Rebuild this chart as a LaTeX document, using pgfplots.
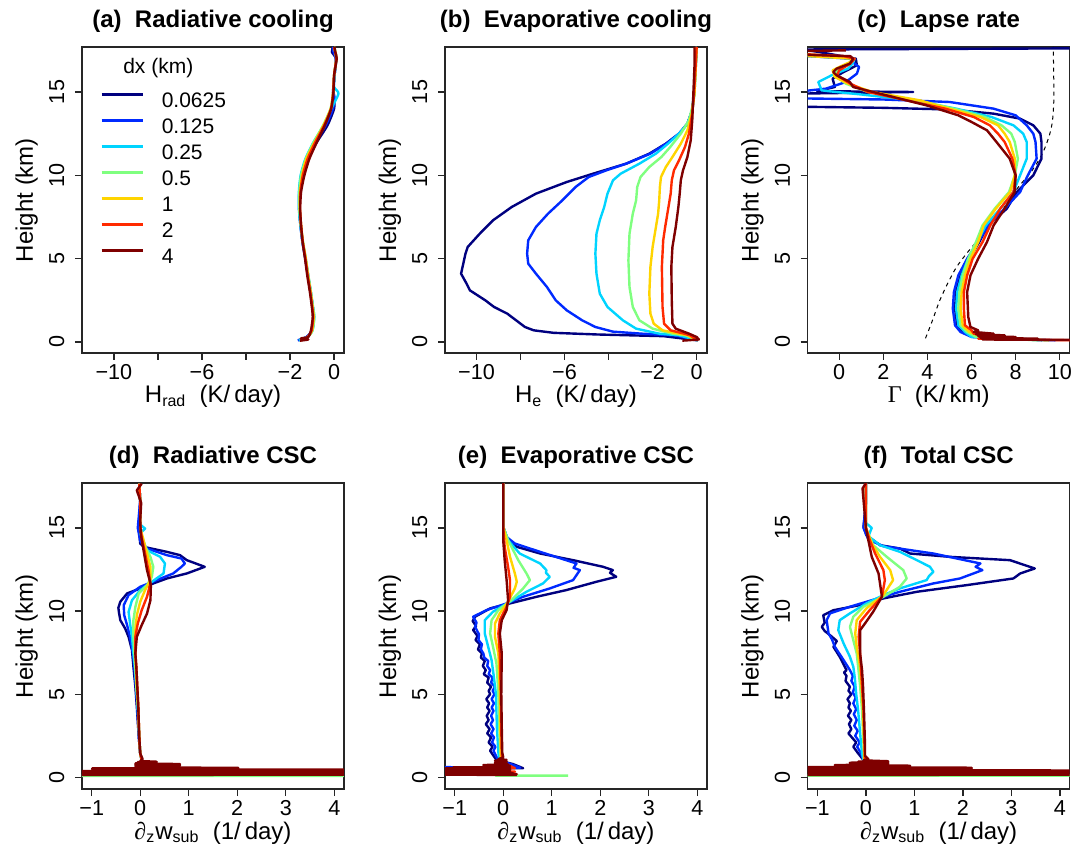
\documentclass[border=0pt]{standalone}
\usepackage{pgfplots}
\pgfplotsset{compat=1.18}
\usepackage{fontspec}
\setmainfont{Liberation Sans}
\newfontfamily\symf{Liberation Serif}
\definecolor{c1}{HTML}{00007F}
\definecolor{c2}{HTML}{002AFF}
\definecolor{c3}{HTML}{00D4FF}
\definecolor{c4}{HTML}{7FFF7F}
\definecolor{c5}{HTML}{FFD400}
\definecolor{c6}{HTML}{FF2A00}
\definecolor{c7}{HTML}{7F0000}
\pgfplotsset{
 every axis title shift=0pt,
 panel/.style={
  scale only axis, width=131pt, height=153pt,
  ytick={0,5,10,15}, yticklabels={0,5,10,15},
  tick align=outside, major tick length=3.5pt,
  xtick pos=left, ytick pos=left,
  axis line style={line width=0.6pt, black!85},
  tick style={line width=0.6pt, black!85},
  tick label style={font=\fontsize{10.8}{12}\selectfont},
  yticklabel style={rotate=90, anchor=south, inner sep=0pt},
  xticklabel style={anchor=north, inner sep=0pt},
  yticklabel shift=5.1pt,
  xticklabel shift=2pt,
  label style={font=\fontsize{12}{14}\selectfont},
  xlabel style={at={([yshift=-25pt]axis description cs:0.5,0)}, anchor=base},
  ylabel style={at={([xshift=-24.5pt]axis description cs:0,0.5)}, anchor=base},
  title style={at={([yshift=9.8pt]axis description cs:0.5,1)}, anchor=base, font=\fontsize{12}{14}\selectfont\bfseries},
  every axis plot/.append style={line width=1.2pt, line join=round},
  no markers,
 },
 toprow/.style={panel, ymin=-0.66, ymax=17.7},
 botrow/.style={panel, ymin=-0.7, ymax=17.7, xmin=-1.2, xmax=4.2,
   xtick={-1,0,1,2,3,4}, xticklabels={−1,0,1,2,3,4},
   xlabel={{\symf ∂}\textsubscript{z}w\textsubscript{sub}\ \ (1/\,day)}, ylabel={Height (km)}},
}
\begin{document}
\begin{tikzpicture}
\useasboundingbox (0,0) rectangle (543.5pt,423pt);
% ---------------- (a)
\begin{axis}[toprow, at={(41pt,246.5pt)}, anchor=south west,
  xmin=-11.45, xmax=0.45, xtick={-10,-8,-6,-4,-2,0}, xticklabels={−10,,−6,,−2,0},
  title={(a)\ \ Radiative cooling}, xlabel={H\textsubscript{rad}\ \ (K/\,day)}, ylabel={Height (km)},
  legend style={draw=none, fill=none, inner sep=0pt, at={(axis description cs:0.0687,0.857)}, anchor=north west,
    font=\fontsize{10.5}{12}\selectfont, row sep=3pt, column sep=9pt,
    nodes={inner sep=0pt, text height=8pt, text depth=2pt}},
  legend cell align=left,
  legend image code/.code={\draw[#1, line width=1.2pt] (0pt,3.3pt) -- (20.5pt,3.3pt);}]
\addplot[c1, smooth, tension=0.4] coordinates {(-1.62,0.1) (-1.25,0.3) (-1.0,0.7) (-0.92,1.5) (-0.98,2.2) (-1.06,3) (-1.18,4) (-1.3,5) (-1.43,6) (-1.52,7) (-1.58,8) (-1.56,9) (-1.45,10) (-1.2,11) (-0.78,12) (-0.3,13) (0.0,14) (0.0,14.6) (-0.05,15) (0.02,16) (0.08,17) (-0.1,17.4) (-0.05,17.7)};
\addplot[c2, smooth, tension=0.4] coordinates {(-1.65,0.1) (-1.25,0.3) (-1.0,0.7) (-0.92,1.5) (-0.98,2.2) (-1.07,3) (-1.19,4) (-1.31,5) (-1.44,6) (-1.53,7) (-1.59,8) (-1.58,9) (-1.48,10) (-1.25,11) (-0.85,12) (-0.38,13) (-0.05,14) (0.02,14.7) (-0.03,15) (0.02,16) (0.08,17) (-0.05,17.5) (-0.02,17.7)};
\addplot[c3, smooth, tension=0.4] coordinates {(-1.6,0.1) (-1.2,0.3) (-0.98,0.7) (-0.9,1.5) (-0.97,2.2) (-1.06,3) (-1.18,4) (-1.3,5) (-1.43,6) (-1.53,7) (-1.6,8) (-1.6,9) (-1.52,10) (-1.3,11) (-0.93,12) (-0.47,13) (-0.13,14) (0.2,14.9) (0.0,15.3) (0.02,16) (0.1,17) (0.03,17.5) (0.0,17.7)};
\addplot[c4, smooth, tension=0.4] coordinates {(-1.55,0.1) (-1.2,0.3) (-0.98,0.7) (-0.9,1.5) (-0.97,2.2) (-1.05,3) (-1.17,4) (-1.28,5) (-1.41,6) (-1.51,7) (-1.58,8) (-1.58,9) (-1.5,10) (-1.28,11) (-0.92,12) (-0.5,13) (-0.16,14) (-0.04,15) (0.0,16) (0.1,17) (0.05,17.5) (0.0,17.7)};
\addplot[c5, smooth, tension=0.4] coordinates {(-1.52,0.1) (-1.2,0.3) (-1.0,0.7) (-0.93,1.5) (-0.99,2.2) (-1.07,3) (-1.19,4) (-1.29,5) (-1.42,6) (-1.5,7) (-1.56,8) (-1.55,9) (-1.45,10) (-1.26,11) (-0.88,12) (-0.48,13) (-0.15,14) (-0.04,15) (0.0,16) (0.1,17) (0.05,17.4) (0.0,17.7)};
\addplot[c6, smooth, tension=0.4] coordinates {(-1.5,0.1) (-1.2,0.3) (-1.02,0.7) (-0.95,1.5) (-1.0,2.2) (-1.08,3) (-1.2,4) (-1.3,5) (-1.42,6) (-1.5,7) (-1.55,8) (-1.53,9) (-1.42,10) (-1.2,11) (-0.85,12) (-0.45,13) (-0.14,14) (-0.04,15) (0.0,16) (0.1,17) (0.05,17.4) (0.0,17.7)};
\addplot[c7, smooth, tension=0.4] coordinates {(-1.55,0.08) (-1.17,0.15) (-1.5,0.22) (-1.17,0.3) (-1.05,0.7) (-0.97,1.5) (-1.02,2.2) (-1.1,3) (-1.22,4) (-1.32,5) (-1.43,6) (-1.5,7) (-1.54,8) (-1.5,9) (-1.35,10) (-1.12,11) (-0.78,12) (-0.42,13) (-0.13,14) (-0.03,15) (0.0,16) (0.12,17) (0.05,17.4) (0.02,17.7)};
\legend{0.0625,0.125,0.25,0.5,1,2,4}
\node[anchor=base west, font=\fontsize{10.5}{12}\selectfont, inner sep=0pt] at (axis description cs:0.156,0.915) {dx (km)};
\end{axis}
% ---------------- (b)
\begin{axis}[toprow, at={(222.5pt,246.5pt)}, anchor=south west,
  xmin=-11.43, xmax=0.47, xtick={-10,-8,-6,-4,-2,0}, xticklabels={−10,,−6,,−2,0},
  title={(b)\ \ Evaporative cooling}, xlabel={H\textsubscript{e}\ \ (K/\,day)}, ylabel={Height (km)}]
\addplot[c1] coordinates {(0.05,0.1) (-1.5,0.35) (-4.5,0.45) (-6.5,0.55) (-7.4,0.7) (-7.8,0.9) (-8.2,1.3) (-8.6,1.7) (-9.2,2.1) (-9.6,2.5) (-10.3,3.1) (-10.45,3.5) (-10.7,4.1) (-10.65,4.4) (-10.6,4.7) (-10.5,5.3) (-10.4,5.7) (-9.85,6.5) (-9.25,7.3) (-8.4,8.1) (-7.3,8.9) (-5.9,9.6) (-4.7,10.1) (-3.2,10.7) (-2.15,11.3) (-1.4,11.9) (-0.8,12.5) (-0.42,13.1) (-0.2,13.9) (-0.12,14.9) (-0.05,16.5) (0.0,17.7)};
\addplot[c2] coordinates {(0.05,0.1) (-1.0,0.4) (-2.5,0.5) (-3.8,0.62) (-4.6,0.9) (-5.2,1.3) (-5.9,1.9) (-6.4,2.5) (-6.8,3.3) (-7.3,4.1) (-7.65,4.7) (-7.7,5.3) (-7.65,6.1) (-7.3,6.9) (-6.75,7.7) (-6.1,8.5) (-5.5,9.3) (-4.9,9.9) (-4.1,10.3) (-3.2,10.7) (-2.1,11.3) (-1.38,11.9) (-0.8,12.5) (-0.42,13.1) (-0.2,13.9) (-0.12,14.9) (-0.05,16.5) (0.0,17.7)};
\addplot[c3] coordinates {(0.05,0.1) (-0.8,0.4) (-1.7,0.5) (-2.75,0.8) (-3.35,1.3) (-4.05,2.1) (-4.4,2.9) (-4.55,4.1) (-4.6,5.3) (-4.55,6.5) (-4.4,7.3) (-4.2,8.1) (-4.05,8.9) (-3.8,9.7) (-3.45,10.1) (-2.6,10.7) (-1.85,11.3) (-1.3,11.9) (-0.8,12.5) (-0.42,13.1) (-0.2,13.9) (-0.1,14.9) (-0.04,16.5) (0.0,17.7)};
\addplot[c4] coordinates {(0.05,0.1) (-0.5,0.4) (-1.1,0.5) (-2.0,0.8) (-2.6,1.3) (-2.9,2.1) (-3.05,3.3) (-3.1,4.9) (-3.05,6.5) (-2.9,7.7) (-2.75,8.5) (-2.7,9.3) (-2.55,9.9) (-2.15,10.5) (-1.6,11.1) (-1.2,11.7) (-0.72,12.5) (-0.35,13.3) (-0.2,14.1) (-0.1,14.9) (-0.04,16.5) (0.0,17.7)};
\addplot[c5] coordinates {(0.05,0.1) (-0.4,0.4) (-0.8,0.5) (-1.55,0.7) (-1.95,1.1) (-2.1,1.7) (-2.15,2.9) (-2.1,4.5) (-2.0,5.7) (-1.85,6.9) (-1.75,7.7) (-1.7,8.5) (-1.67,9.3) (-1.62,9.9) (-1.4,10.5) (-1.1,11.1) (-0.72,11.9) (-0.42,12.7) (-0.22,13.7) (-0.1,14.9) (-0.04,16.5) (0.0,17.7)};
\addplot[c6] coordinates {(0.05,0.1) (-0.3,0.4) (-0.57,0.5) (-1.18,0.7) (-1.48,1.1) (-1.55,2.1) (-1.58,4.5) (-1.52,6.1) (-1.43,6.9) (-1.28,8.1) (-1.18,8.9) (-1.13,9.7) (-1.03,10.3) (-0.8,10.9) (-0.53,11.7) (-0.35,12.5) (-0.2,13.7) (-0.12,14.9) (-0.05,16.5) (0.0,17.7)};
\addplot[c7] coordinates {(-0.65,0.08) (0.1,0.15) (0.0,0.3) (-0.35,0.5) (-0.95,0.8) (-1.1,1.1) (-1.13,2.5) (-1.15,4.5) (-1.1,5.7) (-0.95,6.9) (-0.83,8.1) (-0.77,8.9) (-0.72,9.7) (-0.62,10.3) (-0.42,11.1) (-0.27,12.1) (-0.2,13.3) (-0.15,14.9) (-0.1,16.5) (-0.1,17.7)};
\end{axis}
% ---------------- (c)
\begin{axis}[toprow, at={(403.85pt,246.5pt)}, anchor=south west,
  xmin=-1.43, xmax=10.45, xtick={0,2,4,6,8,10}, xticklabels={0,2,4,6,8,10},
  title={(c)\ \ Lapse rate}, xlabel={{\symf Γ}\ \ (K/\,km)}, ylabel={Height (km)}]
\addplot[black, line width=0.5pt, dash pattern=on 2pt off 2pt, smooth] coordinates {(3.91,0.22) (4.2,1.2) (4.56,2.5) (4.95,3.6) (5.32,4.5) (5.77,5.3) (6.15,5.9) (6.53,6.5) (6.9,7.1) (7.28,7.7) (7.6,8.3) (7.89,8.9) (8.25,9.5) (8.64,10.1) (8.95,10.7) (9.21,11.3) (9.4,11.9) (9.55,12.5) (9.65,13.1) (9.7,13.7) (9.73,14.5) (9.73,15.3) (9.72,16.5) (9.7,17.7)};
\addplot[c1] coordinates {(9.2,0.1) (6.2,0.3) (5.6,0.6) (5.35,1) (5.25,2) (5.3,3) (5.5,4) (5.9,5) (6.35,6) (6.75,7) (7.6,8) (8.05,9) (8.8,10) (9.17,11) (9.17,12) (9.12,12.5) (8.8,13) (8.2,13.4) (7.0,13.7) (5.0,13.95) (2.0,14.05) (-2.0,14.12) (-2.0,14.9) (3.35,15.0) (-1.0,15.05) (-0.2,15.3) (-0.3,15.8) (0.2,16.2) (0.8,16.6) (0.75,17.0) (-0.5,17.3) (-1.6,17.55) (11,17.62)};
\addplot[c2] coordinates {(9.8,0.1) (6.0,0.3) (5.5,0.6) (5.25,1) (5.15,2) (5.2,3) (5.4,4) (5.8,5) (6.3,6) (6.75,7) (7.5,8) (8.2,9) (8.55,10) (8.95,11) (8.9,12) (8.8,12.5) (8.5,13) (8.0,13.6) (7.0,14.0) (5.0,14.4) (2.0,14.55) (-2.0,14.62) (-2.0,15.0) (-0.6,15.2) (0.3,15.6) (0.8,16.1) (0.9,16.5) (0.6,16.8) (0.5,17.0) (-2.0,17.2)};
\addplot[c3] coordinates {(9.5,0.1) (6.0,0.3) (5.7,0.6) (5.4,1) (5.3,2) (5.35,3) (5.55,4) (5.85,5) (6.25,6) (6.65,7) (7.3,8) (7.9,9) (8.2,10) (8.5,11) (8.5,12) (8.34,12.5) (7.9,13) (6.9,13.5) (5.3,14) (3.35,14.5) (1.0,14.85) (-0.5,15.05) (-0.8,15.1) (-0.95,15.6) (-0.35,16.0) (0.4,16.4) (0.6,16.7) (0.7,17.0) (-2.0,17.2)};
\addplot[c4] coordinates {(9.0,0.1) (6.2,0.3) (5.8,0.6) (5.5,1) (5.4,2) (5.45,3) (5.6,4) (5.85,5) (6.2,6) (6.5,7) (7.05,8) (7.7,9) (7.96,10) (8.1,11) (7.96,12) (7.8,12.5) (7.36,13) (6.6,13.5) (5.2,14) (3.5,14.5) (1.3,15) (0.3,15.5) (-0.2,16.0) (-0.1,16.3) (0.3,16.6) (0.6,16.9) (0.5,17.1) (-2.0,17.3)};
\addplot[c5] coordinates {(9.5,0.1) (6.5,0.3) (5.9,0.6) (5.6,1) (5.5,2) (5.55,3) (5.7,4) (5.95,5) (6.3,6) (6.55,7) (7.1,8) (7.75,9) (7.96,10) (7.96,11) (7.73,12) (7.5,12.5) (7.2,13) (6.4,13.5) (5.0,14) (3.65,14.5) (1.5,15) (0.4,15.5) (-0.2,15.9) (-0.3,16.3) (0.0,16.5) (0.5,16.8) (0.6,17.0) (-2.0,17.2)};
\addplot[c6] coordinates {(10.5,0.1) (6.3,0.2) (7.5,0.35) (6.1,0.5) (6.0,0.7) (5.7,1) (5.65,2) (5.65,3) (5.8,4) (6.05,5) (6.5,6) (6.85,7) (7.3,8) (7.9,9) (8.0,10) (7.85,11) (7.5,12) (7.2,12.5) (6.83,13) (6.1,13.5) (4.8,14) (3.05,14.5) (1.3,15) (0.5,15.5) (-0.1,16) (0.0,16.3) (0.5,16.7) (0.7,17.0) (0.2,17.15) (-2.0,17.3)};
\addplot[c7] coordinates {(11,0.12) (6.5,0.15) (9,0.2) (6.4,0.25) (8,0.3) (6.3,0.35) (7.5,0.4) (6.2,0.45) (7.0,0.5) (6.1,0.6) (6.3,0.7) (5.95,0.9) (5.85,1.5) (5.8,3) (5.95,4) (6.3,5) (6.7,6) (7.0,7) (7.5,8) (7.95,9) (8.0,10) (7.73,11) (7.13,12) (6.7,12.7) (6.0,13.2) (5.4,13.6) (3.95,14.2) (2.45,14.7) (0.63,15.3) (0.48,15.6) (-0.12,16.0) (-0.27,16.2) (-0.12,16.4) (0.48,16.7) (0.63,17.0) (0.5,17.15) (-2.0,17.25) (-2.0,17.45) (0.3,17.5)};
\end{axis}
% ---------------- (d)
\begin{axis}[botrow, at={(41pt,28.5pt)}, anchor=south west, title={(d)\ \ Radiative CSC}]
\addplot[c1] coordinates {(0,0.15) (0.03,1.04) (0,1.44) (-0.03,2.44) (-0.07,4.25) (-0.1,5.45) (-0.14,6.65) (-0.17,7.65) (-0.24,8.45) (-0.31,8.95) (-0.41,9.45) (-0.44,9.95) (-0.45,10.2) (-0.41,10.56) (-0.27,11.06) (0,11.36) (0.27,11.66) (0.55,11.96) (0.96,12.26) (1.33,12.66) (0.96,13.06) (0.82,13.36) (0.55,13.56) (0.07,13.86) (0,14.06) (-0.03,15.06) (0,16.66) (-0.02,17.66)};
\addplot[c2] coordinates {(0,0.15) (0.03,1.04) (0,1.44) (-0.03,2.44) (-0.06,4.25) (-0.09,5.45) (-0.12,6.65) (-0.15,7.45) (-0.21,8.45) (-0.27,9.15) (-0.33,9.75) (-0.34,10.35) (-0.24,10.96) (0,11.46) (0.34,11.86) (0.68,12.26) (0.85,12.66) (0.92,12.86) (0.85,13.16) (0.55,13.36) (0.14,13.76) (0,14.2) (-0.05,15.0) (0,16.66) (-0.02,17.66)};
\addplot[c3] coordinates {(0,0.15) (0.03,1.04) (0,1.44) (-0.02,2.44) (-0.05,4.25) (-0.08,5.45) (-0.11,6.65) (-0.14,7.45) (-0.17,8.45) (-0.21,9.25) (-0.24,9.95) (-0.17,10.65) (0,11.26) (0.24,11.76) (0.48,12.26) (0.51,12.86) (0.41,13.26) (0.14,13.66) (0,14.66) (0.1,14.96) (0,15.2) (0,16.66) (-0.02,17.66)};
\addplot[c4] coordinates {(5,0.08) (-1.5,0.09) (0,0.15) (0.03,1.04) (0,1.44) (-0.02,2.44) (-0.05,4.25) (-0.08,5.45) (-0.1,6.65) (-0.12,7.45) (-0.14,8.45) (-0.14,9.45) (-0.1,10.25) (-0.03,11.06) (0.14,11.56) (0.24,12.06) (0.27,12.66) (0.21,13.26) (0.07,14.06) (0,15) (0,16.66) (-0.02,17.66)};
\addplot[c5] coordinates {(0,0.15) (0.03,1.04) (0,1.44) (-0.02,2.44) (-0.04,4.25) (-0.07,5.45) (-0.09,6.65) (-0.1,7.45) (-0.1,8.85) (-0.07,9.75) (0,10.56) (0.1,11.26) (0.21,11.86) (0.21,12.66) (0.14,13.46) (0.07,14.26) (0,15) (0,16.66) (-0.02,17.66)};
\addplot[c6] coordinates {(0,0.15) (0.03,1.04) (0,1.44) (-0.02,2.44) (-0.04,4.25) (-0.06,5.45) (-0.08,6.65) (-0.1,7.45) (-0.1,8.45) (-0.05,9.25) (0.03,10.05) (0.14,10.86) (0.21,11.66) (0.17,12.46) (0.1,13.46) (0.03,14.46) (0,15.2) (0,16.66) (-0.02,17.66)};
\addplot[c7] coordinates {(-1.5,0.14) (5,0.17) (-1.5,0.2) (5,0.23) (-1.5,0.26) (5,0.29) (-1.5,0.32) (5,0.35) (-1.5,0.38) (5,0.41) (-0.99,0.44) (5,0.46) (-0.99,0.49) (2.02,0.52) (-0.99,0.54) (2.02,0.57) (-0.1,0.6) (0.82,0.64) (-0.1,0.68) (0.82,0.72) (-0.1,0.76) (0.82,0.8) (-0.1,0.84) (0.34,0.88) (-0.05,0.92) (0.34,0.94) (0.0,0.98) (0.05,1.1) (0.0,1.44) (-0.02,2.44) (-0.04,4.25) (-0.06,5.45) (-0.08,6.65) (-0.1,7.45) (-0.07,8.45) (0.03,9.15) (0.14,9.85) (0.21,10.65) (0.22,11.56) (0.14,12.46) (0.08,13.46) (0.01,14.66) (0,15.5) (0.02,16.5) (-0.07,17.26) (0.03,17.66)};
\end{axis}
% ---------------- (e)
\begin{axis}[botrow, at={(222.5pt,28.5pt)}, anchor=south west, title={(e)\ \ Evaporative CSC}]
\addplot[c1] coordinates {(-1.5,0.6) (0.41,0.55) (0.2,0.8) (-0.14,1.04) (-0.2,1.3) (-0.27,1.6) (-0.22,1.84) (-0.3,2.1) (-0.25,2.4) (-0.33,2.64) (-0.28,2.9) (-0.36,3.2) (-0.3,3.44) (-0.34,3.7) (-0.28,4.0) (-0.33,4.2) (-0.29,4.45) (-0.35,4.7) (-0.27,5.0) (-0.3,5.2) (-0.25,5.45) (-0.33,5.7) (-0.3,6.0) (-0.4,6.2) (-0.36,6.45) (-0.42,6.7) (-0.38,7.0) (-0.46,7.2) (-0.44,7.45) (-0.52,7.7) (-0.48,8.0) (-0.57,8.26) (-0.53,8.5) (-0.62,8.86) (-0.56,9.1) (-0.63,9.4) (-0.58,9.66) (-0.27,10.16) (0.14,10.46) (0.69,10.86) (1.30,11.26) (1.92,11.76) (2.33,12.06) (2.2,12.3) (2.26,12.46) (2.06,12.66) (1.44,13.06) (0.76,13.46) (0.28,13.86) (0.1,14.26) (0,15.06) (0,17.7)};
\addplot[c2] coordinates {(-1.5,0.62) (0.35,0.58) (0.15,0.8) (-0.1,1.04) (-0.15,1.3) (-0.2,1.6) (-0.16,1.84) (-0.23,2.1) (-0.19,2.4) (-0.25,2.64) (-0.2,2.9) (-0.26,3.2) (-0.21,3.44) (-0.25,3.7) (-0.2,4.0) (-0.24,4.2) (-0.19,4.45) (-0.24,4.7) (-0.18,5.0) (-0.22,5.2) (-0.17,5.45) (-0.25,5.7) (-0.22,6.0) (-0.3,6.2) (-0.27,6.45) (-0.33,6.7) (-0.31,7.0) (-0.39,7.2) (-0.41,7.45) (-0.46,7.7) (-0.44,8.0) (-0.51,8.26) (-0.5,8.6) (-0.58,9.06) (-0.55,9.3) (-0.62,9.66) (-0.34,10.06) (0.07,10.46) (0.41,10.86) (0.96,11.36) (1.44,11.86) (1.58,12.46) (1.45,12.6) (1.51,12.86) (0.76,13.56) (0.24,14.06) (0.05,14.5) (0,15.06) (0,17.7)};
\addplot[c3] coordinates {(-0.05,0.8) (-0.08,1.04) (-0.1,1.5) (-0.13,3) (-0.15,5) (-0.2,6.2) (-0.24,7.05) (-0.31,7.85) (-0.38,8.65) (-0.38,9.45) (-0.21,9.96) (0.14,10.56) (0.48,11.16) (0.82,11.66) (0.96,12.06) (0.88,12.3) (0.89,12.46) (0.76,12.86) (0.34,13.46) (0.1,14.26) (0,15.06) (0,17.7)};
\addplot[c4] coordinates {(1.34,0.1) (-0.15,0.1) (-0.03,0.8) (-0.05,1.04) (-0.06,1.5) (-0.08,3) (-0.1,5) (-0.12,6.0) (-0.14,6.85) (-0.21,7.85) (-0.27,8.65) (-0.24,9.45) (-0.1,10.06) (0.17,10.66) (0.41,11.36) (0.55,11.86) (0.48,12.26) (0.31,13.06) (0.1,14.26) (0,15.06) (0,17.7)};
\addplot[c5] coordinates {(-0.03,0.8) (-0.04,1.04) (-0.05,1.5) (-0.06,3) (-0.07,5) (-0.1,7.45) (-0.17,8.45) (-0.17,9.25) (-0.07,9.86) (0.1,10.56) (0.24,11.36) (0.28,11.76) (0.24,12.26) (0.14,13.26) (0.07,14.26) (0,15.06) (0,17.7)};
\addplot[c6] coordinates {(-1.5,0.2) (0.24,0.25) (-1.5,0.3) (0.24,0.35) (-1.5,0.4) (0.24,0.55) (-0.02,0.9) (-0.03,1.5) (-0.04,3) (-0.05,5) (-0.07,7.45) (-0.1,8.65) (-0.07,9.45) (0.07,10.26) (0.14,10.86) (0.14,11.86) (0.1,12.66) (0.03,13.86) (0,15.06) (0,17.7)};
\addplot[c7] coordinates {(0.28,0.14) (-1.5,0.17) (0.28,0.2) (-1.5,0.23) (0.2,0.26) (-1.5,0.29) (0.15,0.32) (-1.5,0.35) (0.14,0.38) (-1.5,0.41) (0.14,0.44) (-1.5,0.47) (0.14,0.5) (-1.5,0.53) (0.14,0.56) (-1.03,0.6) (0.14,0.62) (-0.41,0.66) (0.14,0.7) (-0.41,0.74) (0.1,0.78) (-0.17,0.82) (0.07,0.86) (-0.17,0.9) (0.07,0.95) (-0.17,1.0) (0.07,1.05) (-0.1,1.1) (0.0,1.2) (-0.02,1.5) (-0.03,3) (-0.04,5) (-0.03,7.45) (-0.07,8.65) (-0.03,9.45) (0.07,10.06) (0.1,10.66) (0.07,11.86) (0.03,13.06) (0,14.26) (0,17.7)};
\end{axis}
% ---------------- (f)
\begin{axis}[botrow, at={(403.85pt,28.5pt)}, anchor=south west, title={(f)\ \ Total CSC}]
\addplot[c1] coordinates {(-0.05,1.04) (-0.16,1.44) (-0.26,1.84) (-0.2,2.1) (-0.36,2.64) (-0.3,2.9) (-0.35,3.2) (-0.3,3.45) (-0.37,3.7) (-0.31,4.0) (-0.36,4.2) (-0.33,4.45) (-0.38,4.7) (-0.3,5.0) (-0.36,5.2) (-0.33,5.45) (-0.42,5.8) (-0.4,6.1) (-0.45,6.3) (-0.4,6.45) (-0.54,7.25) (-0.67,7.85) (-0.6,8.2) (-0.74,8.55) (-0.85,8.8) (-0.91,9.05) (-0.85,9.3) (-0.88,9.75) (-0.67,10.05) (-0.12,10.36) (0.36,10.76) (1.05,11.16) (2.08,11.56) (3.04,11.96) (3.18,12.26) (3.48,12.56) (2.97,13.06) (1.73,13.26) (0.91,13.46) (0.70,13.76) (0.29,13.96) (0.01,14.56) (-0.05,15.06) (0,16.5) (0,17.7)};
\addplot[c2] coordinates {(-0.05,1.04) (-0.1,1.44) (-0.18,1.84) (-0.13,2.1) (-0.22,2.5) (-0.17,2.8) (-0.24,3.1) (-0.19,3.45) (-0.25,3.8) (-0.2,4.1) (-0.26,4.45) (-0.21,4.8) (-0.27,5.1) (-0.23,5.45) (-0.3,5.8) (-0.27,6.1) (-0.33,6.45) (-0.46,7.05) (-0.64,7.85) (-0.7,8.3) (-0.77,8.65) (-0.81,9.45) (-0.74,9.86) (-0.33,10.26) (0.36,10.86) (0.70,11.16) (1.39,11.66) (1.94,11.96) (2.4,12.46) (2.26,12.66) (2.36,12.86) (1.39,13.46) (0.36,13.9) (0.05,14.3) (-0.05,15.0) (0,16.5) (0,17.7)};
\addplot[c3] coordinates {(-0.05,1.04) (-0.08,1.44) (-0.1,2) (-0.13,3) (-0.16,4) (-0.2,5) (-0.23,6) (-0.26,6.65) (-0.33,7.25) (-0.46,8.05) (-0.57,8.85) (-0.54,9.45) (-0.33,9.86) (0.01,10.46) (0.36,10.96) (0.70,11.36) (1.25,11.86) (1.3,12.1) (1.39,12.36) (1.32,12.66) (1.05,13.06) (0.70,13.56) (0.29,13.96) (0.05,14.5) (0.12,15.0) (0,15.3) (0,17.7)};
\addplot[c4] coordinates {(5,0.1) (-1.5,0.1) (-0.04,0.14) (-0.04,1.04) (-0.05,2) (-0.08,4) (-0.12,5.5) (-0.16,6.65) (-0.19,7.45) (-0.26,8.25) (-0.33,9.05) (-0.26,9.66) (-0.05,10.26) (0.36,10.86) (0.7,11.46) (0.84,11.96) (0.77,12.46) (0.43,13.26) (0.15,13.96) (0,15) (0,17.7)};
\addplot[c5] coordinates {(-0.03,1.04) (-0.04,2) (-0.06,4) (-0.09,5.5) (-0.12,6.65) (-0.19,7.85) (-0.22,8.65) (-0.19,9.45) (0.01,10.16) (0.36,10.96) (0.56,11.86) (0.5,12.46) (0.29,13.26) (0.12,14.06) (0,15) (0,17.7)};
\addplot[c6] coordinates {(-0.02,1.04) (-0.03,2) (-0.05,4) (-0.08,5.5) (-0.1,6.5) (-0.12,7.45) (-0.15,8.45) (-0.12,9.35) (0.08,10.06) (0.33,10.86) (0.39,11.86) (0.36,12.46) (0.19,13.46) (0.08,14.26) (0,15) (0,17.7)};
\addplot[c7] coordinates {(-1.5,0.14) (5,0.17) (-1.5,0.2) (5,0.23) (-1.5,0.26) (5,0.29) (-1.5,0.32) (5,0.35) (-1.5,0.38) (5,0.41) (-1.5,0.44) (2.18,0.47) (-1.5,0.5) (2.18,0.53) (-1.5,0.56) (2.18,0.58) (-1.5,0.61) (0.91,0.64) (-0.64,0.67) (0.91,0.7) (-0.64,0.74) (0.46,0.77) (-0.33,0.8) (0.46,0.84) (-0.33,0.88) (0.46,0.92) (-0.16,0.95) (0.46,0.97) (-0.05,1.02) (0.05,1.1) (-0.02,1.3) (-0.02,2) (-0.04,4) (-0.06,5.5) (-0.08,6.45) (-0.12,7.45) (-0.12,8.85) (-0.02,9.25) (0.15,9.96) (0.33,10.86) (0.29,11.66) (0.26,12.26) (0.12,13.26) (0.05,14.26) (0,15.0) (-0.07,17.37) (0,17.7)};
\end{axis}
\end{tikzpicture}
\end{document}
